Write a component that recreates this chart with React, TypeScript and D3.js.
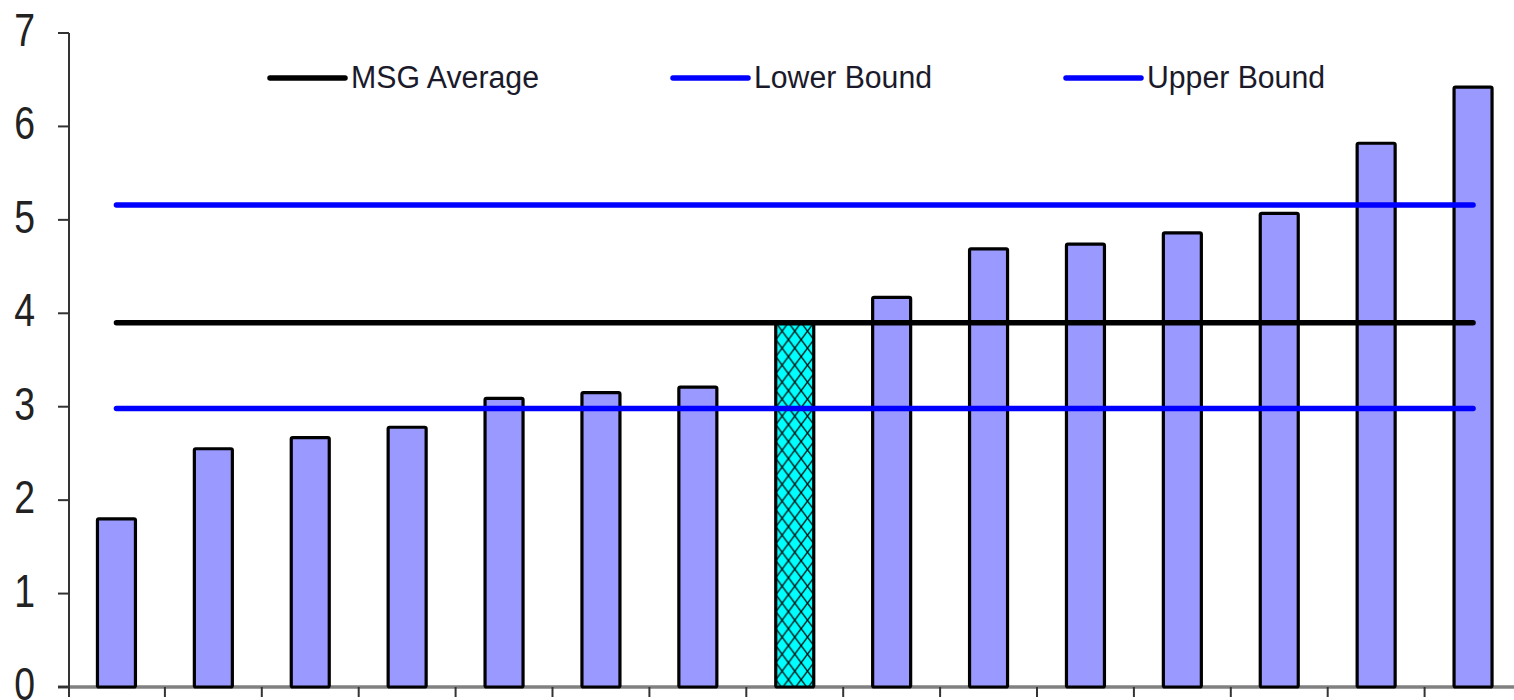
import React from "react";
import * as d3 from "d3";

const categories = ["C1","C2","C3","C4","C5","C6","C7","MSG","C9","C10","C11","C12","C13","C14","C15"];
const values = [1.8, 2.55, 2.67, 2.78, 3.09, 3.15, 3.21, 3.9, 4.17, 4.69, 4.74, 4.86, 5.07, 5.82, 6.42];
const highlighted = ["MSG"];
const msgAverage = 3.9;
const lowerBound = 2.98;
const upperBound = 5.16;
const yTicks = [0, 1, 2, 3, 4, 5, 6, 7];
const legendItems = [
  { label: "MSG Average", color: "#000000" },
  { label: "Lower Bound", color: "#0000FF" },
  { label: "Upper Bound", color: "#0000FF" },
];

export default function App() {
  const W = 1514, H = 700;
  const x0 = 68, step = 96.9;
  const x = d3.scaleBand<string>().domain(categories).range([x0, x0 + step * categories.length]).padding(0);
  const y = d3.scaleLinear().domain([0, 7]).range([687, 33]);
  const barW = 38;
  const first = categories[0], last = categories[categories.length - 1];
  const cx = (c: string) => (x(c) as number) + x.bandwidth() / 2;
  const hline = (v: number) =>
    d3.line<string>().x((c) => cx(c)).y(() => y(v))([first, last]) as string;

  const legendX = [270, 673, 1066];
  const legendTextW = [188, 178, 178];

  return (
    <svg width={W} height={H} style={{ position: "absolute", left: 0, top: 0, background: "#fff" }}>
      <defs>
        <pattern id="hatch" width="12.7" height="17" patternUnits="userSpaceOnUse" x={cx("MSG") - 19} y={y(msgAverage)}>
          <rect width="12.7" height="17" fill="#00FFFF" />
          <path d="M0,0 L12.7,17 M12.7,0 L0,17" stroke="#000" strokeWidth="1.3" />
        </pattern>
      </defs>

      {/* x axis */}
      <line x1={58} x2={W} y1={y(0)} y2={y(0)} stroke="#808080" strokeWidth={3.5} />
      {categories.map((c, i) => (
        <line key={"xt" + i} x1={(x(c) as number) + x.bandwidth()} x2={(x(c) as number) + x.bandwidth()} y1={y(0)} y2={y(0) + 10} stroke="#333" strokeWidth={2} />
      ))}

      {/* y axis */}
      <line x1={69} x2={69} y1={y(7)} y2={y(0) + 10} stroke="#333" strokeWidth={2} />
      {yTicks.map((t) => (
        <g key={"yt" + t}>
          <line x1={58} x2={69} y1={y(t)} y2={y(t)} stroke="#333" strokeWidth={2} />
          <text
            transform={`translate(35,${y(t) + 13}) scale(0.85,1.05)`}
            textAnchor="end"
            fontFamily="'Liberation Sans', Arial, sans-serif"
            fontSize={44}
            fill="#222"
          >
            {t}
          </text>
        </g>
      ))}

      {/* bars */}
      {categories.map((c, i) => (
        <rect
          key={"b" + c}
          x={cx(c) - barW / 2}
          y={y(values[i])}
          width={barW}
          height={y(0) - y(values[i])}
          rx={1.5}
          fill={highlighted.includes(c) ? "url(#hatch)" : "#9999FF"}
          stroke="#000"
          strokeWidth={3.2}
        />
      ))}

      {/* reference lines */}
      <path d={hline(upperBound)} stroke="#0000FF" strokeWidth={5.5} strokeLinecap="round" fill="none" />
      <path d={hline(lowerBound)} stroke="#0000FF" strokeWidth={5.5} strokeLinecap="round" fill="none" />
      <path d={hline(msgAverage)} stroke="#000000" strokeWidth={5.5} strokeLinecap="round" fill="none" />

      {/* legend */}
      {legendItems.map((it, i) => (
        <g key={"lg" + i}>
          <line x1={legendX[i]} x2={legendX[i] + 75} y1={78} y2={78} stroke={it.color} strokeWidth={5.5} strokeLinecap="round" />
          <text
            x={legendX[i] + 81}
            y={88}
            fontFamily="'Liberation Sans Narrow', 'Liberation Sans', Arial, sans-serif"
            fontSize={31}
            fill="#1a1a2a"
            textLength={legendTextW[i]}
            lengthAdjust="spacingAndGlyphs"
          >
            {it.label}
          </text>
        </g>
      ))}
    </svg>
  );
}
